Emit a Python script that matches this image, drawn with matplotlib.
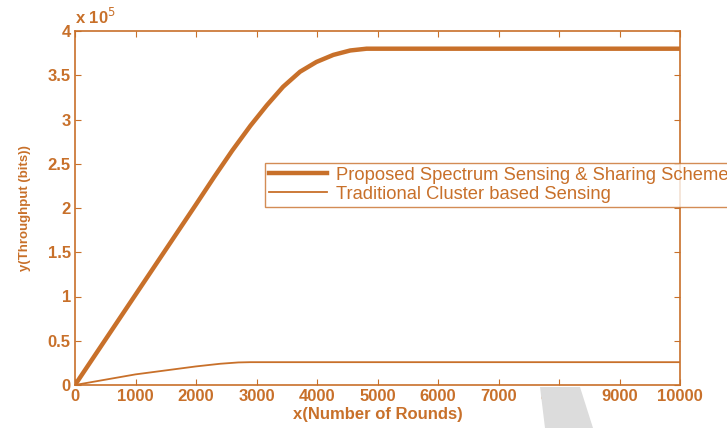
import matplotlib.pyplot as plt
from matplotlib.patches import Polygon

# Data
rounds_proposed = [0, 1000, 2000, 2300, 2600, 2900, 3170, 3440, 3720, 3990, 4270, 4550, 4820, 10000]
tput_proposed = [0, 1.02e5, 2.04e5, 2.35e5, 2.65e5, 2.93e5, 3.16e5, 3.37e5, 3.54e5,
                 3.65e5, 3.73e5, 3.78e5, 3.80e5, 3.80e5]

rounds_trad = [0, 1000, 2000, 2400, 2700, 2900, 10000]
tput_trad = [0, 12000, 21000, 24000, 25500, 25800, 25800]

x_ticks = list(range(0, 10001, 1000))
y_ticks = [0, 0.5e5, 1.0e5, 1.5e5, 2.0e5, 2.5e5, 3.0e5, 3.5e5, 4.0e5]
y_tick_labels = ['0', '0.5', '1', '1.5', '2', '2.5', '3', '3.5', '4']

col = '#C8702A'
plt.rcParams['font.family'] = ['Liberation Sans', 'DejaVu Sans']

fig = plt.figure(figsize=(7.27, 4.28), dpi=100)

# faint gray watermark arc behind the axes
fig.patches.append(Polygon([[540 / 727, 1 - 387 / 428], [580 / 727, 1 - 387 / 428],
                            [593 / 727, 0], [545 / 727, 0]],
                           closed=True, transform=fig.transFigure,
                           facecolor='#dcdcdc', edgecolor='none', zorder=0))

ax = fig.add_axes([75 / 727, 1 - 385 / 428, 605 / 727, 354 / 428])
ax.plot(rounds_proposed, tput_proposed, color=col, linewidth=3.2,
        label='Proposed Spectrum Sensing & Sharing Scheme')
ax.plot(rounds_trad, tput_trad, color=col, linewidth=1.3,
        label='Traditional Cluster based Sensing')

ax.set_xlim(0, 10000)
ax.set_ylim(0, 4e5)
ax.set_xticks(x_ticks)
ax.set_xticklabels([str(v) for v in x_ticks])
ax.set_yticks(y_ticks)
ax.set_yticklabels(y_tick_labels)
ax.tick_params(direction='in', top=True, right=True, length=4, color=col,
               labelcolor=col, labelsize=12, pad=3)
for lbl in ax.get_xticklabels() + ax.get_yticklabels():
    lbl.set_fontweight('bold')
for s in ax.spines.values():
    s.set_color(col)
    s.set_linewidth(1.2)

ax.set_xlabel('x(Number of Rounds)', color=col, fontsize=12, fontweight='bold', labelpad=2)
ax.set_ylabel('y(Throughput (bits))', color=col, fontsize=9.5, fontweight='bold', labelpad=12)
ax.text(0.0, 1.012, r'x 10$^{5}$', transform=ax.transAxes, color=col,
        fontsize=12, fontweight='bold', ha='left', va='bottom')

leg = fig.legend(loc='upper left', bbox_to_anchor=(265 / 727, 1 - 163 / 428),
                 fontsize=13.2, frameon=True, fancybox=False, borderpad=0.2,
                 borderaxespad=0, handlelength=3.2, handletextpad=0.45, labelspacing=0.12)
leg.get_frame().set_edgecolor(col)
leg.get_frame().set_linewidth(1.0)
for t in leg.get_texts():
    t.set_color(col)

fig.savefig('out.png', dpi=100)
